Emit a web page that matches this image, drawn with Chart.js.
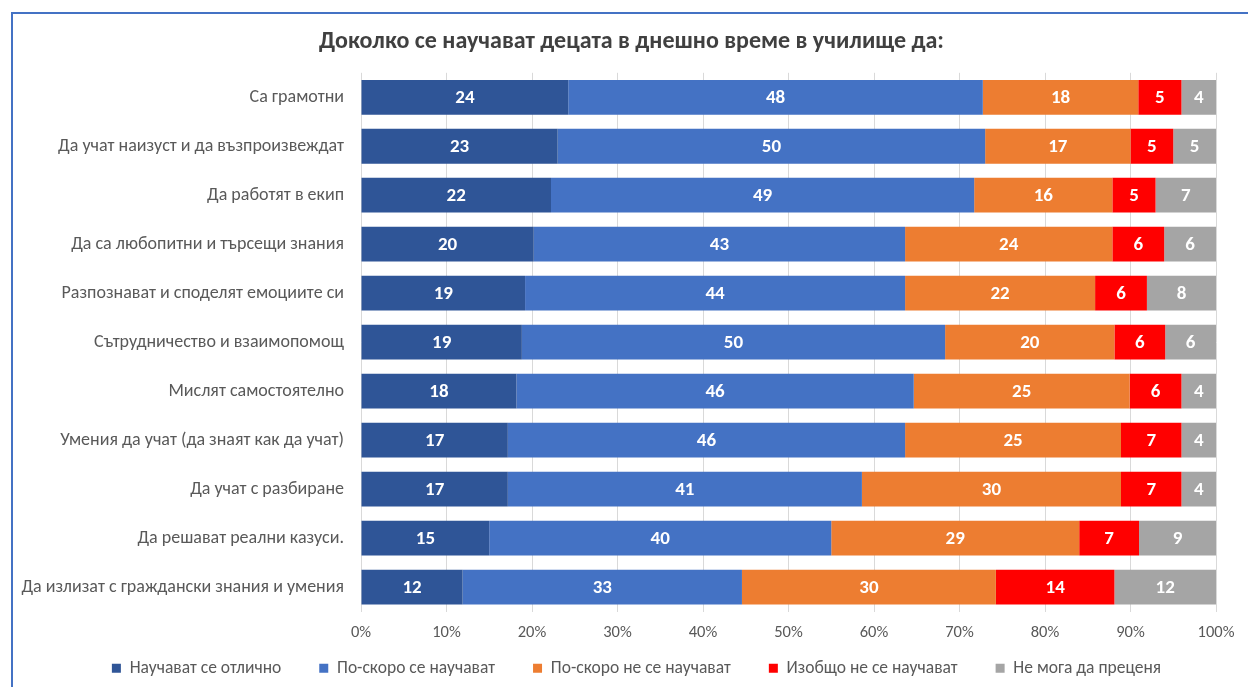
<!DOCTYPE html>
<html>
<head>
<meta charset="utf-8">
<script src="https://cdn.jsdelivr.net/npm/chart.js@4.4.1/dist/chart.umd.min.js"></script>
<style>
  html, body { margin:0; padding:0; background:#fff; overflow:hidden; }
  #wrap { position:relative; width:1248px; height:687px; }
  #frame { position:absolute; left:11px; top:12px; width:1300px; height:700px;
           border-left:2px solid #4472c4; border-top:2px solid #4472c4; pointer-events:none; }
  canvas { position:absolute; left:0; top:0; }
</style>
</head>
<body>
<div id="wrap">
<canvas id="c" width="1248" height="687"></canvas>
<div id="frame"></div>
</div>
<script>
const chartTitle = 'Доколко се научават децата в днешно време в училище да:';
const categories = [
  'Са грамотни',
  'Да учат наизуст и да възпроизвеждат',
  'Да работят в екип',
  'Да са любопитни и търсещи знания',
  'Разпознават и споделят емоциите си',
  'Сътрудничество и взаимопомощ',
  'Мислят самостоятелно',
  'Умения да учат (да знаят как да учат)',
  'Да учат с разбиране',
  'Да решават реални казуси.',
  'Да излизат с граждански знания и умения'
];
const seriesNames = ['Научават се отлично','По-скоро се научават','По-скоро не се научават','Изобщо не се научават','Не мога да преценя'];
const excellent = [24,23,22,20,19,19,18,17,17,15,12];
const ratherYes = [48,50,49,43,44,50,46,46,41,40,33];
const ratherNo  = [18,17,16,24,22,20,25,25,30,29,30];
const notAtAll  = [5,5,5,6,6,6,6,7,7,7,14];
const cantSay   = [4,5,7,6,8,6,4,4,4,9,12];
const seriesColors = ['#2f5597','#4472c4','#ed7d31','#ff0000','#a5a5a5'];
const xTicks = [0,10,20,30,40,50,60,70,80,90,100];

const FONT = 'Carlito, Calibri, Lato, "Open Sans", sans-serif';
const allSeries = [excellent, ratherYes, ratherNo, notAtAll, cantSay];
const totals = categories.map((_, i) => allSeries.reduce((s, a) => s + a[i], 0));

const datasets = allSeries.map((arr, k) => ({
  label: seriesNames[k],
  data: arr.map((v, i) => v / totals[i] * 100),
  raw: arr,
  backgroundColor: seriesColors[k],
  borderWidth: 0,
  categoryPercentage: 0.71,
  barPercentage: 1.0
}));

const labelPlugin = {
  id: 'segLabels',
  afterLayout(chart) {
    // let axis labels extend beyond their layout boxes (no clipping)
    chart.scales.y.left = 0;
    chart.scales.x.bottom = chart.height;
    if (chart.legend) { chart.legend.left += 5; chart.legend.right += 5; }
  },
  afterDatasetsDraw(chart) {
    const ctx = chart.ctx;
    ctx.save();
    ctx.fillStyle = '#ffffff';
    ctx.font = 'bold 19px ' + FONT;
    ctx.textAlign = 'center';
    ctx.textBaseline = 'middle';
    chart.data.datasets.forEach((ds, di) => {
      const meta = chart.getDatasetMeta(di);
      meta.data.forEach((el, i) => {
        ctx.fillText(String(ds.raw[i]), (el.x + el.base) / 2, el.y + 1);
      });
    });
    ctx.restore();
  }
};

new Chart(document.getElementById('c'), {
  type: 'bar',
  data: { labels: categories, datasets },
  plugins: [labelPlugin],
  options: {
    indexAxis: 'y',
    responsive: false,
    animation: false,
    layout: { padding: { left: 47, right: 32, top: 16, bottom: 0 } },
    plugins: {
      title: {
        display: true, text: chartTitle, color: '#404040',
        font: { family: FONT, size: 24, weight: 'bold' },
        padding: { top: 12, bottom: 16 }
      },
      legend: {
        position: 'bottom',
        labels: {
          color: '#595959', boxWidth: 9, boxHeight: 9, padding: 38,
          font: { family: FONT, size: 17.5 }
        }
      },
      tooltip: { enabled: false }
    },
    scales: {
      x: {
        stacked: true, min: 0, max: 100,
        afterBuildTicks(scale) { scale.ticks = xTicks.map(v => ({ value: v })); },
        afterFit(scale) { scale.height = 10; },
        ticks: { color: '#595959', font: { family: FONT, size: 16.5 }, callback: v => v + '%', padding: 11.5 },
        grid: { color: '#d9d9d9', drawTicks: false },
        border: { display: false }
      },
      y: {
        stacked: true,
        afterFit(scale) { scale.width = 314; },
        ticks: { color: '#595959', font: { family: FONT, size: 18 }, padding: 17 },
        grid: { display: false, drawTicks: false },
        border: { display: false }
      }
    }
  }
});
</script>
</body>
</html>
